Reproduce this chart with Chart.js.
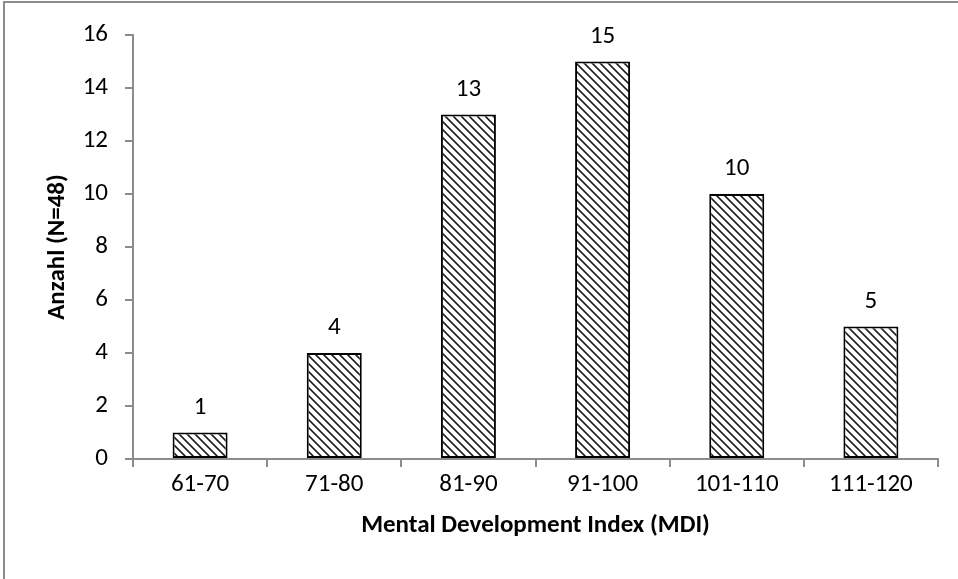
<!DOCTYPE html>
<html>
<head>
<meta charset="utf-8">
<script src="https://cdn.jsdelivr.net/npm/chart.js@4/dist/chart.umd.min.js"></script>
<style>
  html, body { margin: 0; padding: 0; background: #ffffff; }
  #wrap { width: 958px; height: 579px; position: relative; }
</style>
</head>
<body>
<div id="wrap"><canvas id="c" width="958" height="579"></canvas></div>
<script>
const categories = ['61-70', '71-80', '81-90', '91-100', '101-110', '111-120'];
const counts = [1, 4, 13, 15, 10, 5];
const yTicks = [0, 2, 4, 6, 8, 10, 12, 14, 16];
const yTitle = 'Anzahl (N=48)';
const xTitle = 'Mental Development Index (MDI)';

const FONT = 'Carlito, Lato, sans-serif';
const FS = 25;
const AXIS = '#8c8c8c';

function makeHatch() {
  const t = document.createElement('canvas');
  t.width = 8; t.height = 8;
  const g = t.getContext('2d');
  g.fillStyle = '#ffffff';
  g.fillRect(0, 0, 8, 8);
  for (let y = 0; y < 8; y++) {
    for (let x = 0; x < 8; x++) {
      const d = ((x - y) % 8 + 8) % 8;
      if (d === 0 || d === 2) { g.fillStyle = '#6a6a6a'; g.fillRect(x, y, 1, 1); }
      if (d === 1) { g.fillStyle = '#1a1a1a'; g.fillRect(x, y, 1, 1); }
    }
  }
  return document.getElementById('c').getContext('2d').createPattern(t, 'repeat');
}

const frame = {
  id: 'frame',
  beforeDraw(chart) {
    const ctx = chart.ctx;
    ctx.save();
    ctx.fillStyle = '#ffffff';
    ctx.fillRect(0, 0, chart.width, chart.height);
    ctx.strokeStyle = '#8c8c8c';
    ctx.lineWidth = 2;
    ctx.beginPath();
    ctx.moveTo(4, chart.height + 5);
    ctx.lineTo(4, 2);
    ctx.lineTo(chart.width + 5, 2);
    ctx.stroke();
    ctx.restore();
  }
};

const valueLabels = {
  id: 'valueLabels',
  afterDatasetsDraw(chart) {
    const ctx = chart.ctx;
    const meta = chart.getDatasetMeta(0);
    ctx.save();
    ctx.fillStyle = '#000000';
    ctx.font = FS + 'px ' + FONT;
    ctx.textAlign = 'center';
    ctx.textBaseline = 'alphabetic';
    meta.data.forEach((bar, i) => {
      ctx.fillText(String(counts[i]), bar.x, bar.y - 19);
    });
    ctx.restore();
  }
};

new Chart(document.getElementById('c'), {
  type: 'bar',
  data: {
    labels: categories,
    datasets: [{
      data: counts,
      backgroundColor: makeHatch(),
      borderColor: '#000000',
      borderWidth: 2,
      borderSkipped: false,
      categoryPercentage: 1.0,
      barPercentage: 0.41
    }]
  },
  options: {
    responsive: false,
    animation: false,
    devicePixelRatio: 1,
    layout: { padding: { left: 0, right: 20, top: 35, bottom: 0 } },
    plugins: {
      legend: { display: false },
      tooltip: { enabled: false }
    },
    scales: {
      x: {
        offset: true,
        grid: {
          offset: true,
          drawOnChartArea: false,
          drawTicks: true,
          tickLength: 8,
          color: AXIS,
          lineWidth: 2
        },
        border: { color: AXIS, width: 2 },
        ticks: {
          color: '#000000',
          font: { family: FONT, size: FS },
          padding: 3
        },
        title: {
          display: true,
          text: xTitle,
          color: '#000000',
          font: { family: FONT, size: FS, weight: 'bold' },
          padding: { top: 0, bottom: 38 }
        },
        afterFit(s) { s.height = 120; }
      },
      y: {
        min: 0,
        max: 16,
        afterBuildTicks(s) { s.ticks = yTicks.map(v => ({ value: v })); },
        grid: {
          drawOnChartArea: false,
          drawTicks: true,
          tickLength: 8,
          color: AXIS,
          lineWidth: 2
        },
        border: { color: AXIS, width: 2 },
        ticks: {
          color: '#000000',
          font: { family: FONT, size: FS },
          padding: 17
        },
        title: {
          display: true,
          text: yTitle,
          color: '#000000',
          font: { family: FONT, size: FS, weight: 'bold' },
          padding: { top: 43, bottom: 0 }
        },
        afterFit(s) { s.width = 133; }
      }
    }
  },
  plugins: [frame, valueLabels]
});
</script>
</body>
</html>
